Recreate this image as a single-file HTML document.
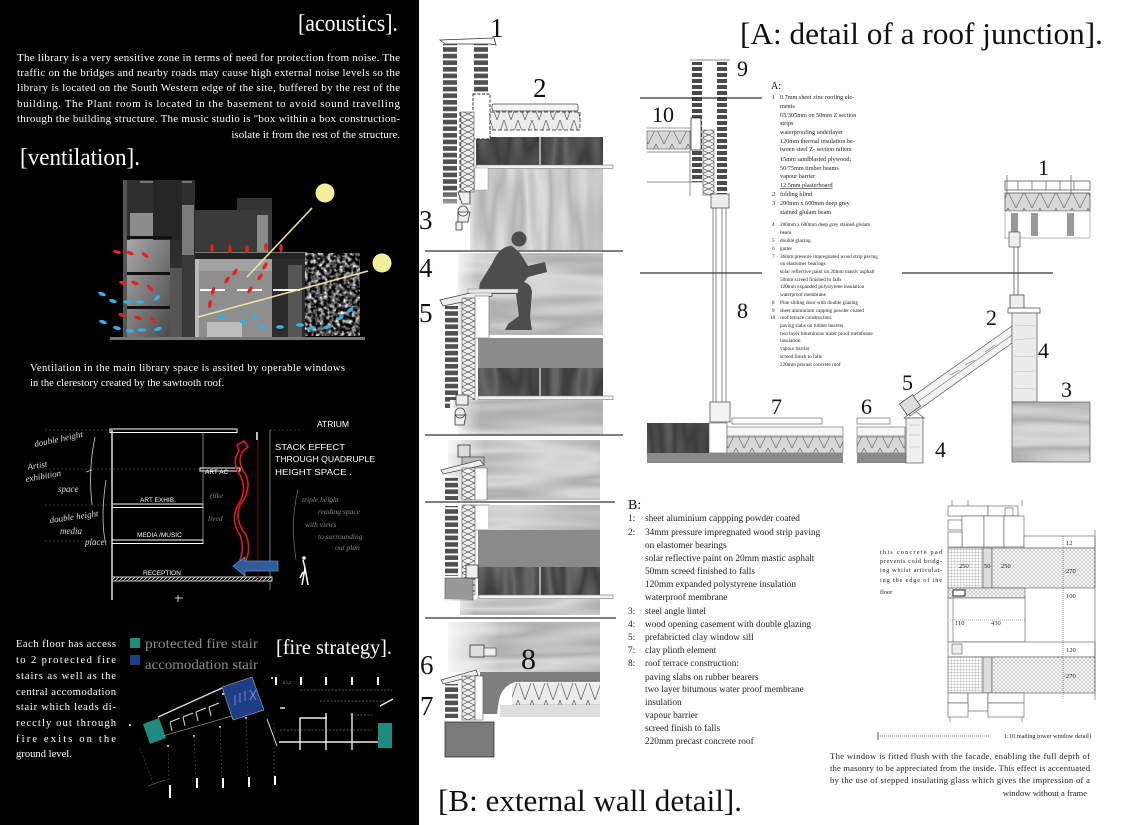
<!DOCTYPE html>
<html><head><meta charset="utf-8">
<style>
html,body{margin:0;padding:0;background:#fff;width:1125px;height:825px;overflow:hidden}
svg{display:block}
text{font-family:"Liberation Serif",serif}
.h{font-family:"Liberation Sans",sans-serif}
</style></head><body>
<svg width="1125" height="825" viewBox="0 0 1125 825" xmlns="http://www.w3.org/2000/svg">
<defs>
<filter id="wL" x="0" y="0" width="1" height="1" color-interpolation-filters="sRGB">
 <feTurbulence type="fractalNoise" baseFrequency="0.005 0.04" numOctaves="2" seed="4"/>
 <feColorMatrix type="matrix" values="1 0 0 0 0 1 0 0 0 0 1 0 0 0 0 0 0 0 0 1"/>
 <feComponentTransfer>
  <feFuncR type="table" tableValues="0.84 0.8 0.74 0.7 0.74 0.8 0.85 0.8 0.74 0.69 0.74 0.8 0.85 0.8 0.74 0.7 0.76"/>
  <feFuncG type="table" tableValues="0.84 0.8 0.74 0.7 0.74 0.8 0.85 0.8 0.74 0.69 0.74 0.8 0.85 0.8 0.74 0.7 0.76"/>
  <feFuncB type="table" tableValues="0.84 0.8 0.74 0.7 0.74 0.8 0.85 0.8 0.74 0.69 0.74 0.8 0.85 0.8 0.74 0.7 0.76"/>
 </feComponentTransfer>
</filter>
<filter id="wV" x="0" y="0" width="1" height="1" color-interpolation-filters="sRGB">
 <feTurbulence type="fractalNoise" baseFrequency="0.04 0.005" numOctaves="2" seed="7"/>
 <feColorMatrix type="matrix" values="1 0 0 0 0 1 0 0 0 0 1 0 0 0 0 0 0 0 0 1"/>
 <feComponentTransfer>
  <feFuncR type="table" tableValues="0.86 0.82 0.76 0.72 0.76 0.82 0.87 0.82 0.76 0.71 0.76 0.82 0.87 0.82 0.76 0.72 0.78"/>
  <feFuncG type="table" tableValues="0.86 0.82 0.76 0.72 0.76 0.82 0.87 0.82 0.76 0.71 0.76 0.82 0.87 0.82 0.76 0.72 0.78"/>
  <feFuncB type="table" tableValues="0.86 0.82 0.76 0.72 0.76 0.82 0.87 0.82 0.76 0.71 0.76 0.82 0.87 0.82 0.76 0.72 0.78"/>
 </feComponentTransfer>
</filter>
<filter id="wD" x="0" y="0" width="1" height="1" color-interpolation-filters="sRGB">
 <feTurbulence type="fractalNoise" baseFrequency="0.04 0.008" numOctaves="2" seed="9"/>
 <feColorMatrix type="matrix" values="1 0 0 0 0 1 0 0 0 0 1 0 0 0 0 0 0 0 0 1"/>
 <feComponentTransfer>
  <feFuncR type="table" tableValues="0.4 0.35 0.29 0.25 0.29 0.35 0.41 0.35 0.29 0.24 0.29 0.35 0.41 0.35 0.29 0.25 0.3"/>
  <feFuncG type="table" tableValues="0.4 0.35 0.29 0.25 0.29 0.35 0.41 0.35 0.29 0.24 0.29 0.35 0.41 0.35 0.29 0.25 0.3"/>
  <feFuncB type="table" tableValues="0.4 0.35 0.29 0.25 0.29 0.35 0.41 0.35 0.29 0.24 0.29 0.35 0.41 0.35 0.29 0.25 0.3"/>
 </feComponentTransfer>
</filter>
<filter id="tree" x="0" y="0" width="1" height="1" color-interpolation-filters="sRGB">
 <feTurbulence type="fractalNoise" baseFrequency="0.25" numOctaves="2" seed="3"/>
 <feColorMatrix type="matrix" values="2.2 0 0 0 -0.82 2.2 0 0 0 -0.82 2.2 0 0 0 -0.82 0 0 0 0 1"/>
</filter>
<linearGradient id="fadeR" x1="0" x2="1" y1="0" y2="0"><stop offset="0" stop-color="#fff" stop-opacity="1"/><stop offset="1" stop-color="#fff" stop-opacity="0"/></linearGradient>
<linearGradient id="fadeB" x1="0" x2="0" y1="0" y2="1"><stop offset="0" stop-color="#fff" stop-opacity="0"/><stop offset="1" stop-color="#fff" stop-opacity="1"/></linearGradient>
<linearGradient id="roomG" x1="0" x2="1" y1="0" y2="1"><stop offset="0" stop-color="#a8a8a8"/><stop offset="1" stop-color="#4a4a4a"/></linearGradient>
<pattern id="brk" width="20" height="6.6" patternUnits="userSpaceOnUse"><rect width="20" height="6.6" fill="#fff"/><rect y="1" width="20" height="4.6" fill="#505050"/></pattern>
<pattern id="brk2" width="20" height="6" patternUnits="userSpaceOnUse"><rect width="20" height="6" fill="#fff"/><rect y="1" width="20" height="4" fill="#4a4a4a"/></pattern>
<pattern id="zv" width="13" height="12" patternUnits="userSpaceOnUse"><rect width="13" height="12" fill="#f2f2f2"/><path d="M0 0 L13 6 L0 12 M13 0 L0 6 L13 12" stroke="#444" stroke-width="0.6" fill="none"/></pattern>
<pattern id="zh" width="14" height="20" patternUnits="userSpaceOnUse"><rect width="14" height="20" fill="#ececec"/><path d="M0 0 L7 20 L14 0" stroke="#444" stroke-width="0.6" fill="none"/></pattern>
<pattern id="zh2" width="16" height="16" patternUnits="userSpaceOnUse"><rect width="16" height="16" fill="#d8d8d8"/><path d="M0 0 L8 16 L16 0" stroke="#555" stroke-width="0.6" fill="none"/></pattern>
<pattern id="grid" width="3" height="3" patternUnits="userSpaceOnUse"><rect width="3" height="3" fill="#fff"/><path d="M0 0 H3 M0 0 V3" stroke="#777" stroke-width="0.5"/></pattern>
<pattern id="xh" width="4" height="4" patternUnits="userSpaceOnUse"><rect width="4" height="4" fill="#fff"/><path d="M0 0 L4 4 M4 0 L0 4" stroke="#999" stroke-width="0.5"/></pattern>
<pattern id="dg" width="4" height="4" patternUnits="userSpaceOnUse"><rect width="4" height="4" fill="#000"/><path d="M0 4 L4 0" stroke="#ddd" stroke-width="0.8"/></pattern>
</defs>

<!-- ================= LEFT BLACK PANEL ================= -->
<rect x="0" y="0" width="419" height="825" fill="#000"/>

<text x="298" y="31" font-size="24" fill="#fff" textLength="100" lengthAdjust="spacingAndGlyphs">[acoustics].</text>
<g fill="#fff" font-size="11">
<text x="17" y="61" textLength="383" lengthAdjust="spacing">The library is a very sensitive zone in terms of need for protection from noise. The</text>
<text x="17" y="76" textLength="383" lengthAdjust="spacing">traffic on the bridges and nearby roads may cause high external noise levels so the</text>
<text x="17" y="91" textLength="383" lengthAdjust="spacing">library is located on the South Western edge of the site, buffered by the rest of the</text>
<text x="17" y="107" textLength="383" lengthAdjust="spacing">building. The Plant room is located in the basement to avoid sound travelling</text>
<text x="17" y="122" textLength="383" lengthAdjust="spacing">through the building structure. The music studio is "box within a box construction-</text>
<text x="400" y="138" text-anchor="end">isolate it from the rest of the structure.</text>
</g>
<text x="20" y="165" font-size="24" fill="#fff" textLength="120" lengthAdjust="spacingAndGlyphs">[ventilation].</text>

<!-- ventilation section -->
<g>
<rect x="123" y="180" width="72" height="158" fill="#2e2e2e"/>
<rect x="123" y="180" width="4" height="158" fill="#555"/>
<rect x="140" y="181" width="52" height="2" fill="#777"/>
<rect x="130" y="213" width="23" height="27" fill="#8d8d8d"/>
<rect x="153" y="180" width="29" height="60" fill="#262626"/>
<rect x="182" y="205" width="12" height="50" fill="#7a7a7a"/>
<rect x="127" y="240" width="43" height="98" fill="url(#roomG)"/>
<rect x="127" y="236" width="45" height="3" fill="#111"/>
<rect x="127" y="272" width="45" height="3" fill="#111"/>
<rect x="127" y="306" width="45" height="3" fill="#111"/>
<rect x="170" y="268" width="12" height="70" fill="#555"/>
<rect x="182" y="255" width="13" height="83" fill="#3a3a3a"/>
<rect x="195" y="210" width="77" height="45" fill="#3a3a3a"/>
<rect x="237" y="198" width="35" height="12" fill="#333"/>
<rect x="257" y="215" width="11" height="38" fill="#8a8a8a"/>
<rect x="195" y="253" width="112" height="6" fill="#222"/>
<rect x="195" y="252" width="112" height="1" fill="#777"/>
<rect x="195" y="259" width="77" height="80" fill="#8e8e8e"/>
<rect x="195" y="259" width="77" height="12" fill="#a2a2a2"/>
<rect x="195" y="259" width="4" height="80" fill="#bbb"/>
<rect x="207" y="322" width="35" height="16" fill="#bcbcbc"/>
<rect x="272" y="259" width="33" height="80" fill="#2c2c2c"/>
<rect x="288" y="265" width="14" height="73" fill="#555"/>
<rect x="305" y="253" width="55" height="83" filter="url(#tree)"/>
<rect x="110" y="337" width="255" height="3" fill="#777"/>
<g fill="#fff"><rect x="200" y="289" width="25" height="2"/><rect x="237" y="289" width="25" height="2"/><rect x="273" y="289" width="27" height="2"/></g>
<circle cx="325" cy="193" r="9.5" fill="#f3ee9a"/>
<circle cx="382" cy="263" r="9.5" fill="#f3ee9a"/>
<line x1="312" y1="208" x2="247" y2="277" stroke="#e8e3a0" stroke-width="1.6"/>
<line x1="368" y1="271" x2="198" y2="317" stroke="#e8e3a0" stroke-width="1.6"/>
<g fill="#e3211e">
<ellipse cx="117" cy="252" rx="4" ry="1.8" transform="rotate(15 117 252)"/>
<ellipse cx="130" cy="253" rx="4" ry="1.8" transform="rotate(25 130 253)"/>
<ellipse cx="145" cy="255" rx="4" ry="1.8" transform="rotate(40 145 255)"/>
<ellipse cx="123" cy="283" rx="4" ry="1.8" transform="rotate(20 123 283)"/>
<ellipse cx="135" cy="283" rx="4" ry="1.8" transform="rotate(25 135 283)"/>
<ellipse cx="150" cy="288" rx="4" ry="1.8" transform="rotate(45 150 288)"/>
<ellipse cx="122" cy="315" rx="4" ry="1.8" transform="rotate(15 122 315)"/>
<ellipse cx="138" cy="318" rx="4" ry="1.8" transform="rotate(25 138 318)"/>
<ellipse cx="153" cy="320" rx="4" ry="1.8" transform="rotate(45 153 320)"/>
<ellipse cx="212" cy="248" rx="4" ry="1.8" transform="rotate(90 212 248)"/>
<ellipse cx="230" cy="249" rx="4" ry="1.8" transform="rotate(90 230 249)"/>
<ellipse cx="247" cy="249" rx="4" ry="1.8" transform="rotate(90 247 249)"/>
<ellipse cx="266" cy="247" rx="4" ry="1.8" transform="rotate(90 266 247)"/>
<ellipse cx="281" cy="248" rx="4" ry="1.8" transform="rotate(90 281 248)"/>
<ellipse cx="235" cy="272" rx="4" ry="1.8" transform="rotate(-55 235 272)"/>
<ellipse cx="227" cy="280" rx="4" ry="1.8" transform="rotate(-55 227 280)"/>
<ellipse cx="213" cy="291" rx="4" ry="1.8" transform="rotate(-70 213 291)"/>
<ellipse cx="210" cy="304" rx="4" ry="1.8" transform="rotate(-80 210 304)"/>
<ellipse cx="250" cy="290" rx="4" ry="1.8" transform="rotate(-55 250 290)"/>
<ellipse cx="260" cy="277" rx="4" ry="1.8" transform="rotate(-55 260 277)"/>
<ellipse cx="265" cy="266" rx="4" ry="1.8" transform="rotate(-60 265 266)"/>
</g>
<g fill="#2fb3e6">
<ellipse cx="102" cy="294" rx="4" ry="1.8" transform="rotate(20 102 294)"/>
<ellipse cx="113" cy="301" rx="4" ry="1.8" transform="rotate(15 113 301)"/>
<ellipse cx="127" cy="302" rx="4" ry="1.8"/>
<ellipse cx="140" cy="302" rx="4" ry="1.8"/>
<ellipse cx="103" cy="322" rx="4" ry="1.8" transform="rotate(20 103 322)"/>
<ellipse cx="117" cy="328" rx="4" ry="1.8" transform="rotate(15 117 328)"/>
<ellipse cx="130" cy="331" rx="4" ry="1.8"/>
<ellipse cx="142" cy="330" rx="4" ry="1.8"/>
<ellipse cx="158" cy="329" rx="4" ry="1.8" transform="rotate(-15 158 329)"/>
<ellipse cx="157" cy="298" rx="4" ry="1.8" transform="rotate(-40 157 298)"/>
<ellipse cx="222" cy="317" rx="4" ry="1.8" transform="rotate(30 222 317)"/>
<ellipse cx="243" cy="322" rx="4" ry="1.8" transform="rotate(20 243 322)"/>
<ellipse cx="255" cy="317" rx="4" ry="1.8" transform="rotate(60 255 317)"/>
<ellipse cx="262" cy="327" rx="4" ry="1.8" transform="rotate(30 262 327)"/>
<ellipse cx="280" cy="327" rx="4" ry="1.8"/>
<ellipse cx="300" cy="325" rx="4" ry="1.8"/>
<ellipse cx="312" cy="328" rx="4" ry="1.8"/>
<ellipse cx="327" cy="327" rx="4" ry="1.8" transform="rotate(-15 327 327)"/>
<ellipse cx="340" cy="318" rx="4" ry="1.8" transform="rotate(-30 340 318)"/>
<ellipse cx="350" cy="310" rx="4" ry="1.8" transform="rotate(-40 350 310)"/>
</g>
</g>

<g fill="#fff" font-size="10.6">
<text x="30" y="371" textLength="315" lengthAdjust="spacing">Ventilation in the main library space is assited by operable windows</text>
<text x="30" y="386">in the clerestory created by the sawtooth roof.</text>
</g>

<!-- stack effect sketch -->
<g>
<g stroke="#444" stroke-width="0.7" stroke-dasharray="2 2">
<line x1="45" y1="430" x2="110" y2="430"/><line x1="45" y1="469" x2="200" y2="469"/>
<line x1="45" y1="505" x2="110" y2="505"/><line x1="45" y1="541" x2="110" y2="541"/>
<line x1="270" y1="430" x2="300" y2="430"/>
</g>
<g fill="none" stroke="#fff">
<rect x="110" y="429" width="127" height="3.5" stroke-width="1"/>
<rect x="200" y="468" width="40" height="3" stroke-width="1"/>
<rect x="112" y="504" width="91" height="3.5" stroke-width="1"/>
<rect x="112" y="540" width="91" height="3.5" stroke-width="1"/>
<line x1="112" y1="430" x2="112" y2="600" stroke-width="1.3"/>
<line x1="203" y1="432" x2="203" y2="543" stroke-width="0.7" stroke="#bbb"/>
<line x1="270" y1="430" x2="270" y2="590" stroke-width="0.8" stroke="#999"/>
<line x1="257" y1="432" x2="257" y2="440" stroke-width="1.5"/>
</g>
<rect x="112" y="577" width="160" height="4" fill="url(#dg)" stroke="#fff" stroke-width="0.8"/>
<line x1="258" y1="440" x2="258" y2="578" stroke="#6a0000" stroke-width="1.3"/>
<path d="M244 441 L248 447 L243 451 Q236 462 246 475 Q252 490 240 505 Q234 520 246 535 Q252 550 244 565 L240 571 L237 567 Q246 550 240 535 Q230 520 238 505 Q248 490 240 475 Q231 462 239 451 L237 445 Z" fill="none" stroke="#e01a1a" stroke-width="1.6"/>
<polygon points="233,566 245,557 245,561 278,561 278,571 245,571 245,576" fill="#2f5d9a" stroke="#5a8ad0" stroke-width="0.8"/>
<path d="M303 560 L305 568 L302 585 M305 568 L308 585 M303 572 L300 578" stroke="#fff" stroke-width="1.5" fill="none"/>
<circle cx="304" cy="558" r="1.8" fill="#fff"/>
<path d="M178 595 L178 602 M175 598 L183 598" stroke="#fff" stroke-width="0.8"/>
<g class="h" fill="#fff">
<text x="317" y="427" font-size="8.5" class="h">ATRIUM</text>
<text x="275" y="450" font-size="8.5" class="h" textLength="70" lengthAdjust="spacingAndGlyphs">STACK EFFECT</text>
<text x="275" y="462" font-size="8.5" class="h" textLength="100" lengthAdjust="spacingAndGlyphs">THROUGH QUADRUPLE</text>
<text x="275" y="475" font-size="8.5" class="h" textLength="77" lengthAdjust="spacingAndGlyphs">HEIGHT SPACE .</text>
<text x="205" y="474" font-size="6.5" class="h">ART AC</text>
<text x="140" y="502" font-size="6.5" class="h">ART EXHIB.</text>
<text x="137" y="537" font-size="6.5" class="h">MEDIA /MUSIC</text>
<text x="143" y="575" font-size="6.5" class="h">RECEPTION</text>
</g>
<g fill="#ddd" font-size="9" font-style="italic">
<text x="35" y="447" transform="rotate(-12 35 447)">double height</text>
<text x="28" y="470" transform="rotate(-10 28 470)">Artist</text>
<text x="26" y="482" transform="rotate(-10 26 482)">exhibition</text>
<text x="58" y="492">space</text>
<text x="50" y="523" transform="rotate(-8 50 523)">double height</text>
<text x="60" y="534">media</text>
<text x="85" y="545">place</text>
</g>
<path d="M95 437 Q88 470 92 505 M92 470 L86 472 M106 480 Q100 520 106 545" stroke="#ccc" stroke-width="0.8" fill="none"/>
<g fill="#888" font-size="7.5" font-style="italic">
<text x="302" y="502">triple height</text>
<text x="318" y="514">reading space</text>
<text x="305" y="527">with views</text>
<text x="318" y="539">to surrounding</text>
<text x="335" y="550">out plan</text>
<text x="210" y="498">(like</text>
<text x="208" y="521">lived</text>
</g>
<path d="M298 490 Q290 520 296 560" stroke="#666" stroke-width="0.8" fill="none"/>
</g>

<!-- fire strategy -->
<g fill="#fff" font-size="10.6">
<text x="16" y="647" textLength="100" lengthAdjust="spacing">Each floor has access</text>
<text x="16" y="663" textLength="100" lengthAdjust="spacing">to 2 protected fire</text>
<text x="16" y="679" textLength="100" lengthAdjust="spacing">stairs as well as the</text>
<text x="16" y="695" textLength="100" lengthAdjust="spacing">central accomodation</text>
<text x="16" y="710" textLength="100" lengthAdjust="spacing">stair which leads di-</text>
<text x="16" y="726" textLength="100" lengthAdjust="spacing">recctly out through</text>
<text x="16" y="742" textLength="100" lengthAdjust="spacing">fire exits on the</text>
<text x="16" y="757">ground level.</text>
</g>
<rect x="130" y="638" width="10" height="10" fill="#1d8b80"/>
<rect x="130" y="655" width="10" height="10" fill="#1d3f86"/>
<text x="145" y="648" font-size="13.5" fill="#8d8d8d" textLength="113" lengthAdjust="spacingAndGlyphs">protected fire stair</text>
<text x="145" y="669" font-size="13.5" fill="#8d8d8d" textLength="113" lengthAdjust="spacingAndGlyphs">accomodation stair</text>
<text x="276" y="654" font-size="21" fill="#fff" textLength="116" lengthAdjust="spacingAndGlyphs">[fire strategy].</text>
<g>
<polygon points="143,724 159,718 166,738 150,744" fill="#1d8b80"/>
<polygon points="222,687 252,677 264,710 233,720" fill="#1d3f86" stroke="#aab" stroke-width="0.6"/>
<path d="M235 705 L235 695 M240 703 L240 693 M245 701 L245 691 M250 690 L256 700 M256 690 L250 700" stroke="#8a9ad0" stroke-width="0.8"/>
<line x1="158" y1="717" x2="222" y2="688" stroke="#ddd" stroke-width="1.3"/>
<line x1="163" y1="736" x2="232" y2="716" stroke="#888" stroke-width="0.8"/>
<path d="M170 722 L180 718 M170 722 L172 731 M183 717 L193 713 M183 717 L185 726 M196 712 L206 708 M196 712 L198 721 M209 707 L219 703 M209 707 L211 716" stroke="#ddd" stroke-width="1" fill="none"/>
<line x1="267" y1="719" x2="277" y2="746" stroke="#ddd" stroke-width="1"/>
<line x1="140" y1="748" x2="155" y2="788" stroke="#444" stroke-width="0.6" stroke-dasharray="2 2"/>
<line x1="148" y1="786" x2="165" y2="780" stroke="#555" stroke-width="0.8"/>
<g fill="#fff"><circle cx="130" cy="725" r="1"/><circle cx="168" cy="746" r="1"/><circle cx="194" cy="736" r="1"/><circle cx="220" cy="727" r="1"/><circle cx="246" cy="718" r="1"/><circle cx="272" cy="678" r="1"/><circle cx="223" cy="694" r="1"/></g>
<g stroke="#555" stroke-width="0.6" stroke-dasharray="2 2"><line x1="168" y1="746" x2="169" y2="783"/><line x1="194" y1="736" x2="196" y2="778"/><line x1="220" y1="727" x2="222" y2="778"/><line x1="246" y1="718" x2="248" y2="777"/><line x1="274" y1="723" x2="274" y2="776"/></g>
<g fill="#fff"><rect x="169" y="785" width="2" height="13"/><rect x="196" y="778" width="2" height="10"/><rect x="222" y="778" width="2" height="10"/><rect x="248" y="777" width="2" height="10"/><rect x="274" y="776" width="2" height="9"/>
<rect x="275" y="677" width="2" height="8"/><rect x="300" y="677" width="2" height="8"/><rect x="325" y="677" width="2" height="8"/><rect x="351" y="677" width="2" height="8"/><rect x="377" y="677" width="2" height="8"/></g>
<g stroke="#777" stroke-width="0.7" stroke-dasharray="2 1.5"><line x1="300" y1="690" x2="392" y2="690"/><line x1="320" y1="701" x2="385" y2="701"/><line x1="280" y1="730" x2="372" y2="730"/><line x1="350" y1="715" x2="372" y2="715"/></g>
<g stroke="#eee" stroke-width="1.4" fill="none"><line x1="279" y1="742" x2="392" y2="742"/><path d="M300 750 L300 718 L327 718"/><line x1="326" y1="713" x2="326" y2="750"/><line x1="352" y1="713" x2="352" y2="750"/><line x1="380" y1="706" x2="393" y2="699"/><line x1="280" y1="708" x2="285" y2="708"/></g>
<rect x="378" y="723" width="14" height="25" fill="#1d8b80"/>
<text x="283" y="684" font-size="4" fill="#aaa">0,1,2</text>
</g>

<!-- ================= MIDDLE: B WALL DETAIL ================= -->
<g>
<!-- section 1 -->
<rect x="470" y="168" width="133" height="82" filter="url(#wV)"/>
<rect x="476" y="137" width="127" height="28" filter="url(#wD)"/>
<line x1="540" y1="137" x2="540" y2="166" stroke="#eee" stroke-width="1.2"/>
<rect x="476" y="165" width="137" height="3.5" fill="#f4f4f4" stroke="#777" stroke-width="0.6"/>
<rect x="475" y="168" width="13" height="22" fill="#fff" stroke="#999" stroke-width="0.5"/>
<rect x="455" y="168" width="25" height="82" fill="url(#fadeR)"/>
<rect x="443" y="44" width="14" height="160" fill="url(#brk)"/>
<rect x="436" y="190" width="24" height="30" fill="url(#fadeB)"/>
<rect x="474" y="44" width="14" height="48" fill="url(#brk)"/>
<path d="M440 40 L494 38 L496 45 L490 44 L445 44 Z" fill="#fff" stroke="#333" stroke-width="0.8"/>
<rect x="473" y="94" width="17" height="45" fill="#fff" stroke="#222" stroke-width="0.9" stroke-dasharray="3 1.5"/>
<rect x="461" y="112" width="13" height="80" fill="url(#zv)" stroke="#555" stroke-width="0.6"/>
<line x1="460" y1="112" x2="460" y2="200" stroke="#222" stroke-dasharray="4 2"/>
<rect x="492" y="104" width="86" height="7" rx="2" fill="#f4f4f4" stroke="#444" stroke-width="0.8"/>
<rect x="490" y="112" width="90" height="18" fill="url(#zh)" stroke="#222" stroke-dasharray="4 2" stroke-width="0.8"/>
<path d="M458 192 L470 192 L470 204 L462 204 Z M463 206 a5 5 0 1 0 0.1 0 M458 212 L470 212 L468 222 L458 222 Z M456 222 L462 222 L462 230 L456 230 Z" fill="#eee" stroke="#333" stroke-width="0.8"/>
<line x1="425" y1="251" x2="623" y2="251" stroke="#333" stroke-width="1.2"/>

<!-- section 2 -->
<rect x="458" y="253" width="145" height="82" filter="url(#wL)"/>
<rect x="450" y="253" width="28" height="82" fill="url(#fadeR)"/>
<path d="M512 246 C503 246 497 252 493 262 L480 283 Q477 293 486 294 L516 294 L519 316 L508 324 L505 330 L532 330 L530 317 L532 292 Q531 284 524 282 L528 277 L547 272 L545 262 L528 266 L520 253 Z" fill="#4d4d4d"/>
<circle cx="519" cy="239" r="7.5" fill="#4d4d4d"/>
<polygon points="440,300 470,293 492,290 492,296 443,306" fill="#eee" stroke="#444" stroke-width="0.8"/>
<rect x="468" y="289" width="50" height="4" fill="#e8e8e8" stroke="#777" stroke-width="0.5"/>
<rect x="445" y="306" width="13" height="102" fill="url(#brk)"/>
<rect x="462" y="298" width="13" height="102" fill="url(#zv)" stroke="#555" stroke-width="0.6"/>
<rect x="475" y="296" width="14" height="42" fill="#fff" stroke="#666" stroke-width="0.6"/>
<rect x="478" y="338" width="125" height="30" fill="#8c8c8c"/>
<rect x="478" y="368" width="125" height="28" filter="url(#wD)"/>
<line x1="540" y1="368" x2="540" y2="398" stroke="#eee" stroke-width="1.2"/>
<rect x="478" y="396" width="135" height="3.5" fill="#f4f4f4" stroke="#777" stroke-width="0.6"/>
<rect x="458" y="400" width="145" height="35" filter="url(#wL)"/>
<rect x="450" y="400" width="30" height="35" fill="url(#fadeR)"/>
<path d="M456 395 L468 395 L468 405 L456 405 Z M460 408 a5 5 0 1 0 0.1 0 M455 415 L466 415 L464 425 L455 425 Z" fill="#eee" stroke="#333" stroke-width="0.8"/>
<line x1="425" y1="435" x2="623" y2="435" stroke="#333" stroke-width="1.2"/>

<!-- section 3 -->
<rect x="448" y="440" width="152" height="60" filter="url(#wL)"/>
<rect x="440" y="440" width="45" height="60" fill="url(#fadeR)"/>
<rect x="458" y="445" width="12" height="12" fill="#ddd" stroke="#333" stroke-width="0.8"/>
<rect x="462" y="457" width="22" height="8" fill="#bbb" stroke="#333" stroke-width="0.6"/>
<polygon points="441,470 480,460 484,465 443,474" fill="#eee" stroke="#444" stroke-width="0.7"/>
<rect x="445" y="478" width="13" height="22" fill="url(#brk)"/>
<rect x="462" y="468" width="13" height="32" fill="url(#zv)" stroke="#555" stroke-width="0.6"/>
<rect x="475" y="468" width="12" height="32" fill="#fff" stroke="#666" stroke-width="0.6"/>
<line x1="425" y1="502" x2="615" y2="502" stroke="#333" stroke-width="1.2"/>

<!-- section 4 -->
<rect x="445" y="506" width="13" height="70" fill="url(#brk)"/>
<rect x="462" y="505" width="13" height="90" fill="url(#zv)" stroke="#555" stroke-width="0.6"/>
<rect x="475" y="505" width="14" height="25" fill="#fff" stroke="#666" stroke-width="0.6"/>
<rect x="488" y="505" width="112" height="25" filter="url(#wL)"/>
<rect x="478" y="530" width="122" height="37" fill="#8a8a8a"/>
<rect x="478" y="567" width="122" height="28" filter="url(#wD)"/>
<line x1="540" y1="567" x2="540" y2="598" stroke="#eee" stroke-width="1.2"/>
<rect x="478" y="595" width="135" height="3.5" fill="#f4f4f4" stroke="#777" stroke-width="0.6"/>
<rect x="460" y="599" width="140" height="16" filter="url(#wL)"/>
<rect x="445" y="578" width="28" height="22" fill="#999" stroke="#555" stroke-width="0.6"/>
<rect x="440" y="599" width="35" height="17" fill="url(#fadeR)"/>
<path d="M466 565 L478 565 L478 578 L466 578 Z" fill="#eee" stroke="#333" stroke-width="0.8"/>
<line x1="425" y1="618" x2="616" y2="618" stroke="#333" stroke-width="1.2"/>

<!-- section 5 -->
<rect x="448" y="622" width="152" height="50" filter="url(#wL)"/>
<rect x="440" y="622" width="60" height="50" fill="url(#fadeR)"/>
<rect x="470" y="645" width="14" height="12" fill="#ddd" stroke="#333" stroke-width="0.8"/>
<rect x="484" y="648" width="12" height="8" fill="#eee" stroke="#333" stroke-width="0.6"/>
<path d="M480 672 L600 672 L600 682 L515 682 Q502 686 499 700 L497 714 L480 714 Z" fill="#7d7d7d"/>
<rect x="512" y="683" width="88" height="22" fill="url(#zh)"/>
<path d="M512 705 L600 705" stroke="#777" stroke-width="0.6"/>
<rect x="500" y="705" width="100" height="12" fill="#dedede"/>
<polygon points="441,680 476,670 478,675 443,684" fill="#eee" stroke="#444" stroke-width="0.7"/>
<rect x="445" y="684" width="13" height="34" fill="url(#brk)"/>
<rect x="462" y="676" width="13" height="44" fill="url(#zv)" stroke="#555" stroke-width="0.6"/>
<rect x="475" y="676" width="8" height="44" fill="#fff" stroke="#555" stroke-width="0.6"/>
<rect x="445" y="722" width="49" height="35" fill="#7a7a7a" stroke="#333" stroke-width="0.8"/>

<g font-size="27" fill="#111">
<text x="490" y="37">1</text>
<text x="533" y="97">2</text>
<text x="419" y="229">3</text>
<text x="419" y="277">4</text>
<text x="419" y="322">5</text>
<text x="420" y="674">6</text>
<text x="420" y="715">7</text>
<text x="521" y="669" font-size="30">8</text>
</g>
</g>
<text x="438" y="811" font-size="31" fill="#111" textLength="304" lengthAdjust="spacingAndGlyphs">[B: external wall detail].</text>

<!-- ================= RIGHT: A ROOF JUNCTION ================= -->
<text x="740" y="44" font-size="31" fill="#111" textLength="363" lengthAdjust="spacingAndGlyphs">[A: detail of a roof junction].</text>

<g>
<line x1="690" y1="60" x2="730" y2="60" stroke="#666" stroke-width="0.8"/>
<rect x="692" y="62" width="10" height="120" fill="url(#brk2)"/>
<rect x="717" y="62" width="10" height="132" fill="url(#brk2)"/>
<rect x="691" y="118" width="10" height="32" fill="#fff" stroke="#333" stroke-width="0.8"/>
<rect x="703" y="130" width="11" height="65" fill="url(#zv)" stroke="#555" stroke-width="0.6"/>
<line x1="647" y1="128" x2="690" y2="128" stroke="#777" stroke-width="0.7"/>
<rect x="647" y="131" width="43" height="18" fill="url(#zh2)" stroke="#555" stroke-width="0.6"/>
<line x1="647" y1="152" x2="690" y2="152" stroke="#666" stroke-width="0.7"/>
<line x1="647" y1="182" x2="703" y2="182" stroke="#666" stroke-width="0.7"/>
<line x1="690" y1="150" x2="690" y2="196" stroke="#666" stroke-width="0.7"/>
<rect x="711" y="194" width="18" height="14" fill="#eee" stroke="#444" stroke-width="0.7"/>
<g stroke="#555" stroke-width="0.7"><line x1="713" y1="208" x2="713" y2="408"/><line x1="716" y1="208" x2="716" y2="408"/><line x1="722" y1="208" x2="722" y2="408"/><line x1="726" y1="208" x2="726" y2="408"/></g>
<rect x="710" y="402" width="20" height="20" fill="#f4f4f4" stroke="#444" stroke-width="0.7"/>
<line x1="640" y1="98" x2="762" y2="98" stroke="#333" stroke-width="1.2"/>
<line x1="640" y1="273" x2="762" y2="273" stroke="#333" stroke-width="1.2"/>
<line x1="902" y1="273" x2="1053" y2="273" stroke="#333" stroke-width="1.2"/>

<rect x="647" y="423" width="62" height="30" filter="url(#wD)"/>
<rect x="709" y="423" width="18" height="30" fill="#fff" stroke="#555" stroke-width="0.6"/>
<rect x="732" y="418" width="90" height="6" fill="#fff" stroke="#555" stroke-width="0.6"/>
<rect x="727" y="427" width="116" height="9" fill="#f5f5f5" stroke="#666" stroke-width="0.6"/>
<rect x="727" y="437" width="116" height="16" fill="url(#zh2)" stroke="#666" stroke-width="0.6"/>
<rect x="647" y="453" width="196" height="10" fill="#8a8a8a"/>
<rect x="857" y="418" width="33" height="6" fill="#fff" stroke="#555" stroke-width="0.6"/>
<rect x="857" y="427" width="48" height="9" fill="#f5f5f5" stroke="#666" stroke-width="0.6"/>
<rect x="857" y="437" width="48" height="16" fill="url(#zh2)" stroke="#666" stroke-width="0.6"/>
<rect x="857" y="453" width="50" height="10" fill="#8a8a8a"/>
<polygon points="904,418 914,410 924,418" fill="#fff" stroke="#555" stroke-width="0.7"/>
<rect x="906" y="418" width="17" height="45" fill="#efefef" stroke="#555" stroke-width="0.7"/>
<g stroke="#aaa" stroke-width="0.5"><line x1="909" y1="425" x2="920" y2="425"/><line x1="909" y1="435" x2="920" y2="435"/><line x1="909" y1="447" x2="920" y2="447"/></g>
<polygon points="902,404 1012,326 1012,343 910,416" fill="#f2f2f2" stroke="#555" stroke-width="0.7"/>
<g stroke="#777" stroke-width="0.6"><line x1="906" y1="410" x2="1012" y2="335"/><line x1="950" y1="375" x2="960" y2="370"/><line x1="965" y1="365" x2="975" y2="360"/><line x1="985" y1="352" x2="995" y2="345"/></g>
<rect x="902" y="398" width="16" height="14" fill="#ddd" stroke="#333" stroke-width="0.7" transform="rotate(-35 910 405)"/>
<line x1="1014" y1="245" x2="1014" y2="300" stroke="#555" stroke-width="0.8"/>
<line x1="1018" y1="245" x2="1018" y2="300" stroke="#555" stroke-width="0.8"/>
<rect x="1010" y="295" width="14" height="14" fill="#eee" stroke="#333" stroke-width="0.7"/>
<rect x="1008" y="308" width="32" height="5" fill="#fff" stroke="#444" stroke-width="0.7"/>
<rect x="1012" y="313" width="25" height="89" fill="#ececec" stroke="#555" stroke-width="0.7"/>
<g stroke="#bbb" stroke-width="0.5"><line x1="1014" y1="325" x2="1035" y2="326"/><line x1="1014" y1="340" x2="1035" y2="338"/><line x1="1014" y1="356" x2="1035" y2="357"/><line x1="1014" y1="372" x2="1035" y2="371"/><line x1="1014" y1="388" x2="1035" y2="389"/></g>
<rect x="1012" y="402" width="78" height="60" filter="url(#wL)"/>
<rect x="1012" y="402" width="78" height="60" fill="none" stroke="#555" stroke-width="0.7"/>
<rect x="1005" y="181" width="85" height="9" fill="#fff" stroke="#444" stroke-width="0.7"/>
<g stroke="#444" stroke-width="0.6"><line x1="1018" y1="181" x2="1018" y2="190"/><line x1="1032" y1="181" x2="1032" y2="190"/><line x1="1046" y1="181" x2="1046" y2="190"/><line x1="1060" y1="181" x2="1060" y2="190"/><line x1="1074" y1="181" x2="1074" y2="190"/><line x1="1007" y1="175" x2="1007" y2="196"/><line x1="1071" y1="175" x2="1071" y2="196"/></g>
<rect x="1005" y="193" width="85" height="18" fill="url(#zh2)" stroke="#444" stroke-width="0.7"/>
<rect x="1005" y="211" width="85" height="27" fill="#fff" stroke="#888" stroke-width="0.6"/>
<rect x="1011" y="213" width="7" height="23" fill="#999"/>
<rect x="1031" y="213" width="7" height="23" fill="#999"/>
<rect x="1067" y="213" width="7" height="23" fill="#999"/>
<rect x="1009" y="232" width="11" height="15" fill="#eee" stroke="#333" stroke-width="0.6"/>

<g font-size="22" fill="#111">
<text x="737" y="76">9</text>
<text x="652" y="122">10</text>
<text x="737" y="318">8</text>
<text x="771" y="414">7</text>
<text x="861" y="414">6</text>
<text x="935" y="457">4</text>
<text x="902" y="390">5</text>
<text x="986" y="325">2</text>
<text x="1038" y="358">4</text>
<text x="1061" y="397">3</text>
<text x="1038" y="175">1</text>
</g>
</g>

<!-- A list -->
<text x="771" y="89" font-size="10" fill="#111">A:</text>
<g font-size="6.2" fill="#222">
<text x="772" y="99">1</text><text x="780" y="99">0.7mm sheet zinc roofing ele-</text>
<text x="780" y="108">ments</text>
<text x="780" y="117">65/305mm on 50mm Z section</text>
<text x="780" y="125">strips</text>
<text x="780" y="134">waterproofing underlayer</text>
<text x="780" y="143">120mm thermal insulation be-</text>
<text x="780" y="151">tween steel Z- section rafters</text>
<text x="780" y="161">15mm sandblasted plywood;</text>
<text x="780" y="170">50/75mm timber beams</text>
<text x="780" y="178">vapour barrier</text>
<text x="780" y="187" text-decoration="underline">12.5mm plasterboard</text>
<text x="772" y="196">2</text><text x="780" y="196">folding blind</text>
<text x="772" y="205">3</text><text x="780" y="205">200mm x 600mm deep grey</text>
<text x="780" y="214">stained glulam beam</text>
</g>
<g font-size="5.2" fill="#222">
<text x="772" y="226">4</text><text x="780" y="226">200mm x 600mm deep grey stained glulam</text>
<text x="780" y="234">beam</text>
<text x="772" y="242">5</text><text x="780" y="242">double glazing</text>
<text x="772" y="250">6</text><text x="780" y="250">gutter</text>
<text x="772" y="258">7</text><text x="780" y="258">36mm pressure impregnated wood strip paving</text>
<text x="780" y="265">on elastomer bearings</text>
<text x="780" y="273">solar reflective paint on 20mm mastic asphalt</text>
<text x="780" y="281">50mm screed finished to falls</text>
<text x="780" y="288">120mm expanded polystyrene insulation</text>
<text x="780" y="296">waterproof membrane</text>
<text x="772" y="304">8</text><text x="780" y="304">Pine sliding door with double glazing</text>
<text x="772" y="312">9</text><text x="780" y="312">sheet aluminium capping powder coated</text>
<text x="770" y="319">10</text><text x="780" y="319">roof terrace construction:</text>
<text x="780" y="327">paving slabs on rubber bearers</text>
<text x="780" y="335">two layer bituminous water proof membrane</text>
<text x="780" y="342">insulation</text>
<text x="780" y="350">vapour barrier</text>
<text x="780" y="358">screed finish to falls</text>
<text x="780" y="366">220mm precast concrete roof</text>
</g>

<!-- B list -->
<text x="628" y="509" font-size="14" fill="#111">B:</text>
<g font-size="9.3" fill="#222">
<text x="628" y="521">1:</text><text x="645" y="521">sheet aluminium cappping powder coated</text>
<text x="628" y="535">2:</text><text x="645" y="535">34mm pressure impregnated wood strip paving</text>
<text x="645" y="548">on elastomer bearings</text>
<text x="645" y="561">solar reflective paint on 20mm mastic asphalt</text>
<text x="645" y="574">50mm screed finished to falls</text>
<text x="645" y="587">120mm expanded polystyrene insulation</text>
<text x="645" y="600">waterproof membrane</text>
<text x="628" y="614">3:</text><text x="645" y="614">steel angle lintel</text>
<text x="628" y="627">4:</text><text x="645" y="627">wood opening casement with double glazing</text>
<text x="628" y="640">5:</text><text x="645" y="640">prefabricted clay window sill</text>
<text x="628" y="653">7:</text><text x="645" y="653">clay plinth element</text>
<text x="628" y="666">8:</text><text x="645" y="666">roof terrace construction:</text>
<text x="645" y="680">paving slabs on rubber bearers</text>
<text x="645" y="692">two layer bitumous water proof membrane</text>
<text x="645" y="705">insulation</text>
<text x="645" y="718">vapour barrier</text>
<text x="645" y="731">screed finish to falls</text>
<text x="645" y="744">220mm precast concrete roof</text>
</g>

<!-- window detail -->
<g stroke="#555" stroke-width="0.6" fill="#fff">
<line x1="952" y1="500" x2="952" y2="506"/><line x1="968" y1="500" x2="968" y2="506"/><line x1="1022" y1="500" x2="1022" y2="506"/>
<rect x="948" y="506" width="40" height="10"/><rect x="988" y="506" width="30" height="10"/><rect x="1005" y="508" width="8" height="8"/>
<rect x="948" y="520" width="14" height="10"/><rect x="962" y="516" width="22" height="31"/><rect x="984" y="516" width="20" height="31"/><rect x="1004" y="516" width="20" height="31"/>
<rect x="948" y="532" width="14" height="15"/>
<rect x="1024" y="536" width="71" height="12"/>
<rect x="948" y="548" width="35" height="40" fill="url(#grid)"/>
<rect x="983" y="548" width="9" height="40" fill="#ddd"/>
<rect x="992" y="548" width="103" height="40" fill="url(#xh)"/>
<rect x="948" y="588" width="77" height="10" fill="url(#xh)"/>
<rect x="953" y="590" width="12" height="6" fill="#fff" stroke="#222" stroke-width="1"/>
<rect x="948" y="598" width="77" height="44"/>
<line x1="953" y1="598" x2="953" y2="642"/>
<line x1="950" y1="620" x2="1025" y2="620" stroke-dasharray="1 1"/>
<rect x="948" y="642" width="147" height="15"/>
<rect x="952" y="644" width="10" height="10" fill="#eee"/>
<rect x="948" y="657" width="35" height="36" fill="url(#grid)"/>
<rect x="983" y="657" width="9" height="36" fill="#ddd"/>
<rect x="992" y="657" width="103" height="36" fill="url(#xh)"/>
<rect x="948" y="693" width="20" height="10"/><rect x="968" y="693" width="20" height="18"/><rect x="988" y="693" width="36" height="10"/>
<rect x="948" y="703" width="20" height="14"/><rect x="988" y="703" width="36" height="14"/>
<line x1="1063" y1="536" x2="1063" y2="700" stroke-dasharray="1 1"/>
<line x1="1095" y1="530" x2="1095" y2="700"/>
<line x1="950" y1="717" x2="950" y2="722"/><line x1="1022" y1="717" x2="1022" y2="722"/>
</g>
<g font-size="6.5" fill="#222">
<text x="1066" y="545">12</text>
<text x="959" y="568">250</text><text x="984" y="568">50</text><text x="1001" y="568">250</text>
<text x="1066" y="573">270</text>
<text x="1066" y="598">100</text>
<text x="955" y="625">110</text><text x="991" y="625">430</text>
<text x="1066" y="652">120</text>
<text x="1066" y="678">270</text>
</g>
<g font-size="6.3" fill="#222">
<text x="880" y="554" textLength="62" lengthAdjust="spacing">this concrete pad</text>
<text x="880" y="563" textLength="62" lengthAdjust="spacing">prevents cold bridg-</text>
<text x="880" y="572" textLength="62" lengthAdjust="spacing">ing whilst articulat-</text>
<text x="880" y="582" textLength="62" lengthAdjust="spacing">ing the edge of the</text>
<text x="880" y="594">floor</text>
</g>
<line x1="878" y1="736" x2="990" y2="736" stroke="#555" stroke-width="0.7" stroke-dasharray="1 1"/>
<line x1="878" y1="732" x2="878" y2="740" stroke="#333" stroke-width="0.8"/>
<text x="1091" y="738" font-size="6.3" fill="#222" text-anchor="end">1:10 reading tower window detail]</text>
<g font-size="8.6" fill="#222">
<text x="830" y="759" textLength="260" lengthAdjust="spacing">The window is fitted flush with the facade, enabling the full depth of</text>
<text x="830" y="771" textLength="260" lengthAdjust="spacing">the masonry to be appreciated from the inside. This effect is accentuated</text>
<text x="830" y="783" textLength="260" lengthAdjust="spacing">by the use of stepped insulating glass which gives the impression of a</text>
<text x="1087" y="796" text-anchor="end">window without a frame</text>
</g>
</svg>
</body></html>
